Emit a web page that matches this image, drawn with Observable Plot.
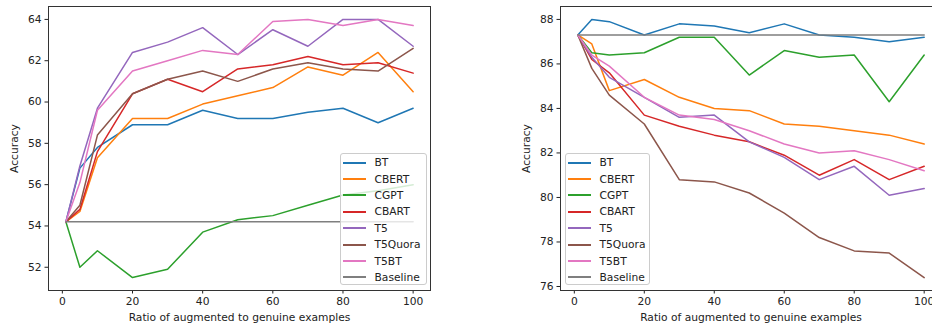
<!DOCTYPE html>
<html>
<head>
<meta charset="utf-8">
<script src="https://cdn.jsdelivr.net/npm/d3@7"></script>
<script src="https://cdn.jsdelivr.net/npm/@observablehq/plot@0.6"></script>
<style>
  html, body { margin: 0; padding: 0; background: #fff; }
  body { width: 932px; height: 327px; overflow: hidden; position: relative; font-family: "DejaVu Sans", sans-serif; }
  .panel { position: absolute; top: 0; height: 327px; }
  .panel svg { max-width: none !important; display: block; }
  .legend { position: absolute; background: rgba(255,255,255,0.8); border: 1px solid #cccccc; border-radius: 3px; box-sizing: border-box; padding-top: 0.5px; font-size: 10.7px; color: #222; }
  .row { height: 16.4px; display: flex; align-items: center; white-space: nowrap; }
  .sw { display: inline-block; width: 23px; height: 2px; margin-left: 2px; margin-right: 8.5px; flex: none; }
</style>
</head>
<body>
<div id="left" class="panel" style="left:0px; width:440px"></div>
<div id="right" class="panel" style="left:440px; width:520px"></div>
<div id="legL" class="legend" style="left:340px; top:153px; width:87px; height:132px"></div>
<div id="legR" class="legend" style="left:565px; top:153px; width:85px; height:132px"></div>
<script>
// ---- data ----
const ratios = [1, 5, 10, 20, 30, 40, 50, 60, 70, 80, 90, 100];
const seriesNames = ["BT", "CBERT", "CGPT", "CBART", "T5", "T5Quora", "T5BT", "Baseline"];
const seriesColors = ["#1f77b4", "#ff7f0e", "#2ca02c", "#d62728", "#9467bd", "#8c564b", "#e377c2", "#7f7f7f"];
const xTicks = [0, 20, 40, 60, 80, 100];
const yTicksLeft = [52, 54, 56, 58, 60, 62, 64];
const yTicksRight = [76, 78, 80, 82, 84, 86, 88];

// left panel
const leftBT       = [54.2, 56.8, 57.8, 58.9, 58.9, 59.6, 59.2, 59.2, 59.5, 59.7, 59.0, 59.7];
const leftCBERT    = [54.2, 54.7, 57.3, 59.2, 59.2, 59.9, 60.3, 60.7, 61.7, 61.3, 62.4, 60.5];
const leftCGPT     = [54.2, 52.0, 52.8, 51.5, 51.9, 53.7, 54.3, 54.5, 55.0, 55.5, 55.7, 56.0];
const leftCBART    = [54.2, 54.8, 57.6, 60.4, 61.1, 60.5, 61.6, 61.8, 62.2, 61.8, 61.9, 61.4];
const leftT5       = [54.2, 56.9, 59.7, 62.4, 62.9, 63.6, 62.3, 63.5, 62.7, 64.0, 64.0, 62.7];
const leftT5Quora  = [54.2, 55.0, 58.4, 60.4, 61.1, 61.5, 61.0, 61.6, 61.9, 61.6, 61.5, 62.6];
const leftT5BT     = [54.2, 56.1, 59.6, 61.5, 62.0, 62.5, 62.3, 63.9, 64.0, 63.7, 64.0, 63.7];
const leftBaseline = [54.2, 54.2, 54.2, 54.2, 54.2, 54.2, 54.2, 54.2, 54.2, 54.2, 54.2, 54.2];

// right panel
const rightBT       = [87.3, 88.0, 87.9, 87.3, 87.8, 87.7, 87.4, 87.8, 87.3, 87.2, 87.0, 87.2];
const rightCBERT    = [87.3, 86.9, 84.8, 85.3, 84.5, 84.0, 83.9, 83.3, 83.2, 83.0, 82.8, 82.4];
const rightCGPT     = [87.3, 86.5, 86.4, 86.5, 87.2, 87.2, 85.5, 86.6, 86.3, 86.4, 84.3, 86.4];
const rightCBART    = [87.3, 86.2, 85.6, 83.7, 83.2, 82.8, 82.5, 81.9, 81.0, 81.7, 80.8, 81.4];
const rightT5       = [87.3, 86.3, 85.4, 84.5, 83.6, 83.7, 82.5, 81.8, 80.8, 81.4, 80.1, 80.4];
const rightT5Quora  = [87.3, 85.8, 84.6, 83.3, 80.8, 80.7, 80.2, 79.3, 78.2, 77.6, 77.5, 76.4];
const rightT5BT     = [87.3, 86.4, 85.9, 84.5, 83.7, 83.5, 83.0, 82.4, 82.0, 82.1, 81.7, 81.2];
const rightBaseline = [87.3, 87.3, 87.3, 87.3, 87.3, 87.3, 87.3, 87.3, 87.3, 87.3, 87.3, 87.3];

const leftSeries = [leftBT, leftCBERT, leftCGPT, leftCBART, leftT5, leftT5Quora, leftT5BT, leftBaseline];
const rightSeries = [rightBT, rightCBERT, rightCGPT, rightCBART, rightT5, rightT5Quora, rightT5BT, rightBaseline];

function toRows(series) {
  const rows = [];
  seriesNames.forEach((name, i) => series[i].forEach((v, j) => rows.push({x: ratios[j], y: v, s: name})));
  return rows;
}

function padDomain(series) {
  const all = series.flat();
  const lo = d3.min(all), hi = d3.max(all), m = (hi - lo) * 0.05;
  return [lo - m, hi + m];
}
const xLo = ratios[0], xHi = ratios[ratios.length - 1], xm = (xHi - xLo) * 0.05;

function makeChart(series, yTicks, width, marginLeft, marginRight) {
  return Plot.plot({
    width, height: 327,
    marginLeft, marginRight, marginTop: 6, marginBottom: 37,
    style: {fontFamily: "DejaVu Sans", fontSize: "10.7px", color: "#222", background: "transparent", overflow: "visible", maxWidth: "none"},
    x: {domain: [xLo - xm, xHi + xm], ticks: xTicks, tickSize: 3.5, tickPadding: 3.5,
        label: "Ratio of augmented to genuine examples", labelAnchor: "center", labelArrow: "none", labelOffset: 30},
    y: {domain: padDomain(series), ticks: yTicks, tickSize: 3.5, tickPadding: 3.5,
        label: "Accuracy", labelAnchor: "center", labelArrow: "none", labelOffset: 38},
    color: {domain: seriesNames, range: seriesColors},
    marks: [
      Plot.line(toRows(series), {x: "x", y: "y", stroke: "s", z: "s", strokeWidth: 1.5}),
      Plot.frame({stroke: "#333", strokeWidth: 1})
    ]
  });
}

document.getElementById("left").appendChild(makeChart(leftSeries, yTicksLeft, 440, 48, 10));
document.getElementById("right").appendChild(makeChart(rightSeries, yTicksRight, 520, 120, 19));

function legend(id) {
  const el = document.getElementById(id);
  seriesNames.forEach((n, i) => {
    const row = document.createElement("div");
    row.className = "row";
    const sw = document.createElement("span");
    sw.className = "sw";
    sw.style.background = seriesColors[i];
    const t = document.createElement("span");
    t.textContent = n;
    row.appendChild(sw); row.appendChild(t);
    el.appendChild(row);
  });
}
legend("legL");
legend("legR");
</script>
</body>
</html>
